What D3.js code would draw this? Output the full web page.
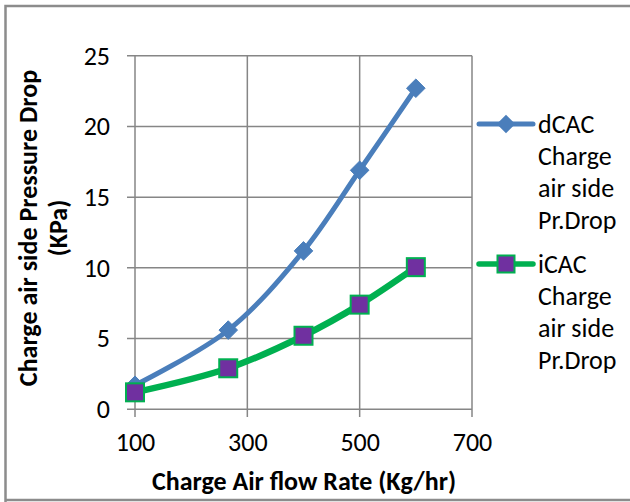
<!DOCTYPE html>
<html><head><meta charset="utf-8">
<script src="https://cdn.jsdelivr.net/npm/d3@7"></script>
<style>
html,body{margin:0;padding:0;background:#fff;}
svg{display:block;}
text{font-family:Carlito, Lato, "Open Sans", sans-serif;fill:#000;}
</style></head>
<body>
<svg id="c" width="630" height="502"></svg>
<script>
const xValues = [100, 266, 400, 500, 600];
const dcacValues = [1.7, 5.6, 11.2, 16.9, 22.7];
const icacValues = [1.2, 2.9, 5.2, 7.4, 10.05];
const xTicks = [100, 300, 500, 700];
const yTicks = [0, 5, 10, 15, 20, 25];
const seriesNames = [["dCAC", "Charge", "air side", "Pr.Drop"], ["iCAC", "Charge", "air side", "Pr.Drop"]];

const svg = d3.select("#c");
const gridColor = "#868686";

// outer frame (left, top, bottom)
svg.append("path").attr("d", "M5.5,502 V6 H630 M5.5,500 H630")
  .attr("fill", "none").attr("stroke", "#8c8c8c").attr("stroke-width", 2.5);

const x = d3.scaleLinear().domain([100, 700]).range([135, 472]);
const y = d3.scaleLinear().domain([0, 25]).range([409.3, 55.7]);

// gridlines
svg.append("g").selectAll("line").data(yTicks).join("line")
  .attr("x1", 127).attr("x2", 472).attr("y1", d => y(d)).attr("y2", d => y(d))
  .attr("stroke", gridColor).attr("stroke-width", 1.5);
svg.append("g").selectAll("line").data(xTicks).join("line")
  .attr("x1", d => x(d)).attr("x2", d => x(d)).attr("y1", y(25)).attr("y2", 417)
  .attr("stroke", gridColor).attr("stroke-width", 1.5);

// axis tick labels via d3 axes
const yAxis = svg.append("g").attr("transform", "translate(127,0)")
  .call(d3.axisLeft(y).tickValues(yTicks).tickSize(0).tickPadding(17));
yAxis.select(".domain").remove();
yAxis.selectAll("text").attr("font-size", 26).attr("font-family", "Carlito, Lato, sans-serif").attr("fill", "#000");

const xAxis = svg.append("g").attr("transform", "translate(0,417)")
  .call(d3.axisBottom(x).tickValues(xTicks).tickSize(0).tickPadding(16));
xAxis.select(".domain").remove();
xAxis.selectAll("text").attr("font-size", 26).attr("font-family", "Carlito, Lato, sans-serif").attr("fill", "#000");

// axis titles
svg.append("text").attr("x", 304).attr("y", 490).attr("text-anchor", "middle")
  .attr("font-weight", "bold").attr("font-size", 26).text("Charge Air flow Rate (Kg/hr)");
const yt = svg.append("text").attr("transform", "translate(0,228) rotate(-90)")
  .attr("text-anchor", "middle").attr("font-weight", "bold").attr("font-size", 26);
yt.append("tspan").attr("x", 0).attr("y", 37).text("Charge air side Pressure Drop");
yt.append("tspan").attr("x", 0).attr("y", 67).text("(KPa)");

// lines
const blue = "#4A7EBB", green = "#00B050", purple = "#7030A0";
const line = d3.line().x(d => x(d[0])).y(d => y(d[1])).curve(d3.curveCatmullRom.alpha(0.5));
const dData = xValues.map((v, i) => [v, dcacValues[i]]);
const iData = xValues.map((v, i) => [v, icacValues[i]]);

svg.append("path").attr("d", line(dData)).attr("fill", "none").attr("stroke", blue)
  .attr("stroke-width", 5).attr("stroke-linecap", "round");
svg.append("path").attr("d", line(iData)).attr("fill", "none").attr("stroke", green)
  .attr("stroke-width", 6.5).attr("stroke-linecap", "round");

const diamond = d3.symbol().type(d3.symbolDiamond2).size(220);
svg.append("g").selectAll("path").data(dData).join("path")
  .attr("transform", d => `translate(${x(d[0])},${y(d[1])})`)
  .attr("d", diamond()).attr("fill", blue).attr("stroke", blue).attr("stroke-width", 1);
svg.append("g").selectAll("rect").data(iData).join("rect")
  .attr("x", d => x(d[0]) - 9).attr("y", d => y(d[1]) - 9).attr("width", 18).attr("height", 18)
  .attr("fill", purple).attr("stroke", green).attr("stroke-width", 2);

// legend
const lg = svg.append("g");
const legY = [124, 264];
lg.append("line").attr("x1", 479).attr("x2", 533).attr("y1", legY[0]).attr("y2", legY[0])
  .attr("stroke", blue).attr("stroke-width", 5).attr("stroke-linecap", "round");
lg.append("path").attr("transform", `translate(506,${legY[0]})`).attr("d", diamond()).attr("fill", blue);
lg.append("line").attr("x1", 479).attr("x2", 533).attr("y1", legY[1]).attr("y2", legY[1])
  .attr("stroke", green).attr("stroke-width", 5.5).attr("stroke-linecap", "round");
lg.append("rect").attr("x", 497.5).attr("y", legY[1] - 8.5).attr("width", 17).attr("height", 17)
  .attr("fill", purple).attr("stroke", green).attr("stroke-width", 2);
seriesNames.forEach((lines, k) => {
  const t = lg.append("text").attr("font-size", 26);
  lines.forEach((s, j) => t.append("tspan").attr("x", 538).attr("y", legY[k] + 9 + j * 32).text(s));
});
</script>
</body></html>
